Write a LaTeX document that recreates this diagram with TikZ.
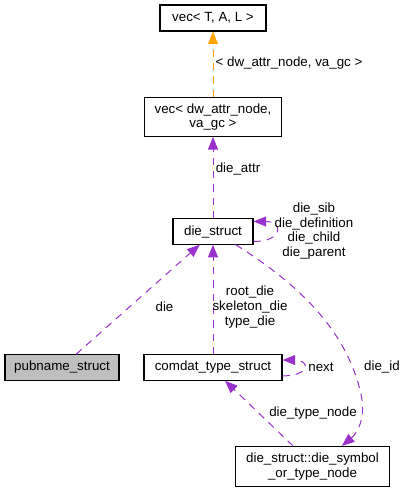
\documentclass[tikz,border=0pt]{standalone}
\usepackage{fontspec}
\setmainfont{Liberation Sans}
\usetikzlibrary{arrows.meta}
\definecolor{usepurple}{HTML}{9A32CD}
\definecolor{tmplorange}{HTML}{FFA500}

\begin{document}
\begin{tikzpicture}[x=0.75pt, y=-0.75pt,
  cls/.style={draw, line width=0.8pt, inner sep=0pt, align=center, font=\fontsize{10}{11}\selectfont},
  lbl/.style={inner sep=0pt, align=center, font=\fontsize{10}{11}\selectfont},
  use/.style={draw=usepurple, line width=0.75pt, dash pattern=on 5.5pt off 4.5pt, -{Triangle[length=9.5pt,width=7.5pt,fill=usepurple]}},
  tmpl/.style={draw=tmplorange, line width=0.75pt, dash pattern=on 5.5pt off 4.5pt, -{Triangle[length=9.5pt,width=7.5pt,fill=tmplorange]}}]
\useasboundingbox (0,0) rectangle (405,493);

% classes
\node[cls, minimum width=79.5pt, minimum height=19.5pt] (tal) at (213,18) {vec< T, A, L >};
\node[cls, minimum width=103pt, minimum height=29pt] (dw) at (213,117) {vec< dw\_attr\_node,\\ va\_gc >};
\node[cls, minimum width=60pt, minimum height=19pt] (ds) at (213,231.5) {die\_struct};
\node[cls, fill=gray!50, minimum width=85.5pt, minimum height=19pt] (pub) at (62,367.5) {pubname\_struct};
\node[cls, minimum width=103.5pt, minimum height=19pt] (cts) at (213,367.5) {comdat\_type\_struct};
\node[cls, minimum width=115pt, minimum height=30pt] (dsn) at (312.5,466.5) {die\_struct::die\_symbol\\ \_or\_type\_node};

% template instance
\draw[tmpl] (dw.north) -- (tal.south);
\node[lbl] (l_tmpl) at (289,63) {< dw\_attr\_node, va\_gc >};

% members
\draw[use] (ds.north) -- (dw.south);
\node[lbl] (l_attr) at (238,169) {die\_attr};

\draw[use] ([yshift=-7.5pt]ds.east) .. controls +(30,0) and +(30,0) .. ([yshift=7.5pt]ds.east);
\node[lbl] (l_self) at (314,231) {die\_sib\\die\_definition\\die\_child\\die\_parent};

\draw[use] ([xshift=10.5pt]pub.north) -- ([xshift=-10pt]ds.south);
\node[lbl] (l_die) at (164.5,307) {die};

\draw[use] (cts.north) -- (ds.south);
\node[lbl] (l_root) at (250,307) {root\_die\\skeleton\_die\\type\_die};

\draw[use] ([yshift=-6.3pt]cts.east) .. controls +(28,0) and +(28,0) .. ([yshift=5.6pt]cts.east);
\node[lbl] (l_next) at (321,367) {next};

\draw[use] ([xshift=-14.6pt]dsn.north) -- ([xshift=9pt]cts.south);
\node[lbl] (l_type) at (313,413) {die\_type\_node};

\draw[use] ([xshift=17pt]ds.south) .. controls (300,285) and (345,330) .. (360,390)
  .. controls (368,420) and (355,435) .. ([xshift=22pt]dsn.north);
\node[lbl] (l_id) at (382,367) {die\_id};

\end{tikzpicture}
\end{document}
